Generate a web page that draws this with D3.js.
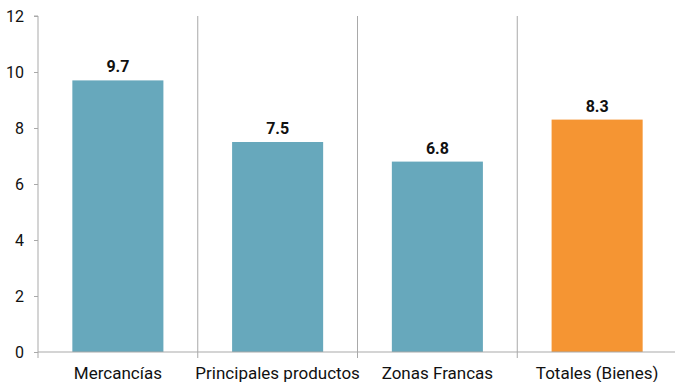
<!DOCTYPE html>
<html><head><meta charset="utf-8">
<script src="https://cdn.jsdelivr.net/npm/d3@7"></script>
<style>body{margin:0;background:#fff}svg{display:block}text{font-family:Roboto,"Noto Sans",sans-serif}</style>
</head><body>
<svg id="c" width="675" height="382"></svg>
<script>
const categories = ["Mercancías","Principales productos","Zonas Francas","Totales (Bienes)"];
const values = [9.7, 7.5, 6.8, 8.3];
const labels = ["9.7","7.5","6.8","8.3"];
const barColors = ["#67a8bc","#67a8bc","#67a8bc","#f59533"];
const yTicks = [0,2,4,6,8,10,12];

const svg = d3.select("#c");
const m = {l:38, r:-2, t:16, b:30};
const W = 675, H = 382;
const x = d3.scaleBand().domain(categories).range([m.l, W - m.r]).paddingInner(0.43).paddingOuter(0.215);
const xb = d3.scaleBand().domain(categories).range([m.l, W - m.r]).padding(0);
const y = d3.scaleLinear().domain([0,12]).range([H - m.b, m.t]);
const grid = "#a9a9a9";

// vertical separators
svg.append("g").selectAll("line").data(categories.slice(1)).join("line")
  .attr("x1", d => xb(d)).attr("x2", d => xb(d))
  .attr("y1", y(12)).attr("y2", y(0) + 6)
  .attr("stroke", grid).attr("stroke-width", 1);

// bars
svg.append("g").selectAll("rect").data(categories).join("rect")
  .attr("x", d => x(d)).attr("width", x.bandwidth())
  .attr("y", (d,i) => y(values[i])).attr("height", (d,i) => y(0) - y(values[i]))
  .attr("fill", (d,i) => barColors[i]);

// value labels
svg.append("g").selectAll("text").data(categories).join("text")
  .attr("x", d => x(d) + x.bandwidth()/2)
  .attr("y", (d,i) => y(values[i]) - 8)
  .attr("text-anchor","middle").attr("font-size", 16).attr("font-weight", 700).attr("fill","#111")
  .text((d,i) => labels[i]);

// y axis
const ya = svg.append("g").attr("transform", `translate(${m.l},0)`)
  .call(d3.axisLeft(y).tickValues(yTicks).tickSize(4).tickPadding(10).tickFormat(d3.format("d")));
ya.select(".domain").attr("stroke", grid).attr("d", `M-4,${y(12)}H0V${y(0)}`);
ya.selectAll(".tick line").attr("stroke", grid);
ya.selectAll(".tick text").attr("font-size", 16).attr("fill","#111").attr("font-family","Roboto,sans-serif");

// x axis
const xa = svg.append("g").attr("transform", `translate(0,${y(0)})`)
  .call(d3.axisBottom(xb).tickSize(0).tickPadding(15));
xa.select(".domain").attr("stroke", grid).attr("d", `M${m.l},0H${W}`);
xa.selectAll(".tick text").attr("font-size", 17).attr("fill","#111").attr("font-family","Roboto,sans-serif");
svg.append("line").attr("x1", m.l).attr("x2", m.l).attr("y1", y(0)).attr("y2", y(0)+6).attr("stroke", grid);
</script>
</body></html>
